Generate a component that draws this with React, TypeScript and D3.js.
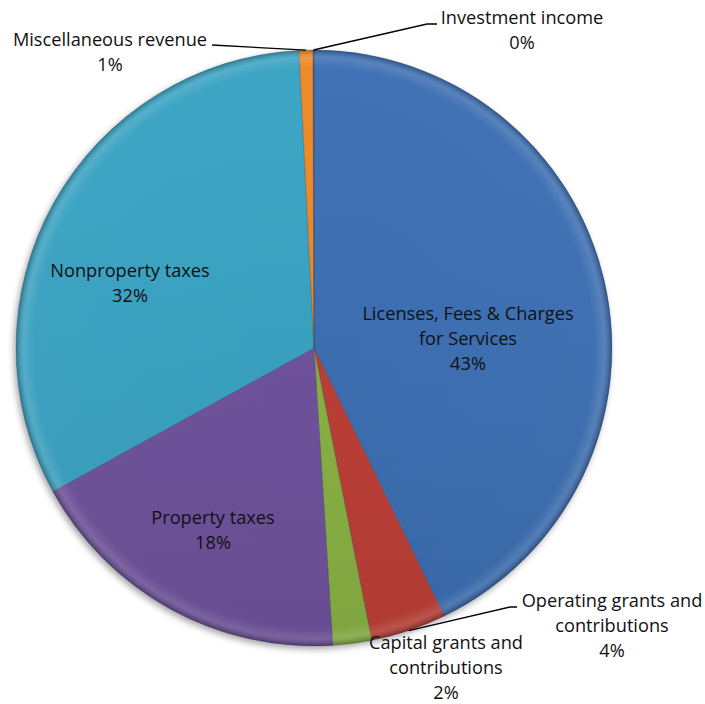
import * as React from "react";
import * as d3 from "d3";

const categories = [
  "Licenses, Fees & Charges for Services",
  "Operating grants and contributions",
  "Capital grants and contributions",
  "Property taxes",
  "Nonproperty taxes",
  "Miscellaneous revenue",
  "Investment income",
];
const values = [42.8, 4.1, 2.1, 18.0, 32.2, 0.75, 0.05];
const percentLabels = ["43%", "4%", "2%", "18%", "32%", "1%", "0%"];
const colors = ["#396cb2", "#bd3a33", "#88b140", "#6d4f9b", "#34a1c2", "#ee8622", "#2c4d75"];

// label lines as Excel wrapped them
const labelLines = [
  ["Licenses, Fees & Charges", "for Services"],
  ["Operating grants and", "contributions"],
  ["Capital grants and", "contributions"],
  ["Property taxes"],
  ["Nonproperty taxes"],
  ["Miscellaneous revenue"],
  ["Investment income"],
];

// layout: label block centre (first line) and leader elbow
const labelLayout = [
  { x: 468, y: 314 },
  { x: 612, y: 601, elbow: [517, 607], knee: [510, 607] },
  { x: 446, y: 643 },
  { x: 213, y: 518 },
  { x: 130, y: 271 },
  { x: 110, y: 40, elbow: [212, 45] },
  { x: 522, y: 18, elbow: [437, 24], knee: [427, 24] },
];

const W = 705;
const H = 704;
const cx = 314;
const cy = 348;
const R = 298;

export default function App() {
  const pie = d3.pie<number>().sort(null).value(d => d)(values);
  const arc = d3.arc<d3.PieArcDatum<number>>().innerRadius(0).outerRadius(R);
  const lh = 25;

  return (
    <svg
      width={W}
      height={H}
      style={{ position: "absolute", left: 0, top: 0, background: "#fff" }}
      fontFamily="'Open Sans', Lato, sans-serif"
      fontSize={18.2}
    >
      <defs>
        <filter id="shadow" x="-10%" y="-10%" width="120%" height="120%">
          <feDropShadow dx={-2} dy={3} stdDeviation={3} floodColor="#000" floodOpacity={0.35} />
        </filter>
        <radialGradient id="bevel" cx="50%" cy="50%" r="50%">
          <stop offset="0%" stopColor="#fff" stopOpacity={0} />
          <stop offset="94%" stopColor="#fff" stopOpacity={0.02} />
          <stop offset="97.5%" stopColor="#fff" stopOpacity={0.14} />
          <stop offset="100%" stopColor="#000" stopOpacity={0.25} />
        </radialGradient>
        <linearGradient id="sheen" x1="0" y1="0" x2="0" y2="1">
          <stop offset="0%" stopColor="#fff" stopOpacity={0.02} />
          <stop offset="100%" stopColor="#000" stopOpacity={0.08} />
        </linearGradient>
      </defs>
      <g transform={`translate(${cx},${cy})`}>
        <g filter="url(#shadow)">
          {pie.map((d, i) => (
            <path key={i} d={arc(d) || ""} fill={colors[i]} stroke="#2b3a4a" strokeOpacity={0.3} strokeWidth={0.8} />
          ))}
        </g>
        <circle r={R} fill="url(#sheen)" />
        <circle r={R} fill="url(#bevel)" />
      </g>

      {pie.map((d, i) => {
        const lay = labelLayout[i];
        const mid = (d.startAngle + d.endAngle) / 2;
        const ex = cx + R * Math.sin(mid);
        const ey = cy - R * Math.cos(mid);
        const lines = [...labelLines[i], percentLabels[i]];
        let leader = null;
        if (lay.elbow) {
          const pts: [number, number][] = [[ex, ey]];
          if (lay.knee) pts.push(lay.knee as [number, number]);
          pts.push(lay.elbow as [number, number]);
          leader = (
            <path d={d3.line()(pts) || ""} fill="none" stroke="#000" strokeWidth={1.3} />
          );
        }
        return (
          <g key={categories[i]}>
            {leader}
            <text textAnchor="middle" fill="#111">
              {lines.map((t, j) => (
                <tspan key={j} x={lay.x} y={lay.y + j * lh} dy="0.35em">
                  {t}
                </tspan>
              ))}
            </text>
          </g>
        );
      })}
    </svg>
  );
}
